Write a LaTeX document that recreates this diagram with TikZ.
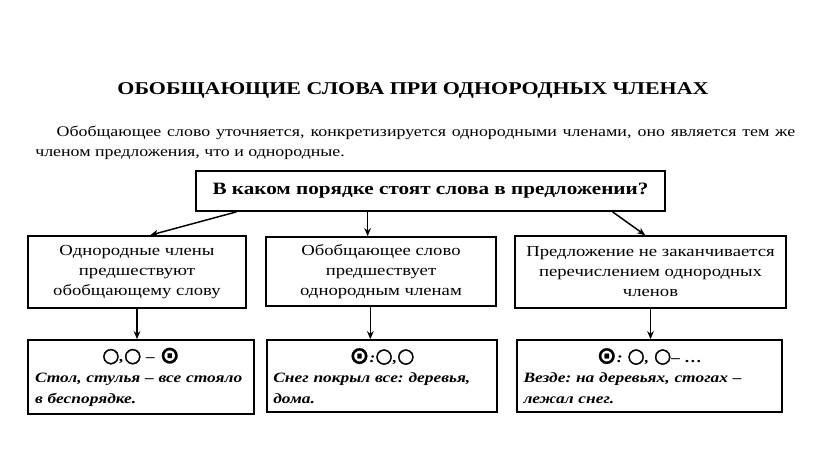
\documentclass[tikz,border=0pt]{standalone}
\usepackage{fontspec}
\setmainfont[FakeStretch=1.22]{Liberation Serif}
\newfontfamily\homfont[FakeBold=1.8]{DejaVu Sans}
\newfontfamily\genfont[FakeBold=0.8]{DejaVu Sans}
\usetikzlibrary{arrows.meta, positioning}
\tikzset{
  box/.style={rectangle,draw,line width=1.3pt,align=center,inner sep=3pt,font=\fontsize{11.5}{15}\selectfont},
  example/.style={rectangle,draw,line width=1.3pt,align=left,inner ysep=3pt,inner xsep=5pt,text width=#1,font=\fontsize{10.7}{15.5}\selectfont\bfseries\itshape\frenchspacing},
  line/.style={-{Stealth[length=6pt,width=5pt]},line width=1.1pt}
}
\newcommand{\homsym}{{\homfont\fontsize{15}{15}\selectfont ○}}
\newcommand{\gensym}{{\genfont\fontsize{18}{15}\selectfont\raisebox{-1pt}{⊙}}}

\begin{document}
\begin{tikzpicture}[x=0.75pt,y=-0.75pt]
\useasboundingbox[fill=white] (0,0) rectangle (816,449);
\node[font=\fontsize{13.5}{18}\selectfont\bfseries] (title) at (413,90) {ОБОБЩАЮЩИЕ СЛОВА ПРИ ОДНОРОДНЫХ ЧЛЕНАХ};
\node[anchor=north west,inner sep=0pt,text width=570pt,align=justify,font=\fontsize{11}{15}\selectfont] (intro) at (35,126)
  {\hspace*{16pt}Обобщающее слово уточняется, конкретизируется однородными членами, оно является тем же\linebreak членом предложения, что и однородные.};
\node[box, minimum width=351.75pt, minimum height=30pt, font=\fontsize{13}{15}\selectfont\bfseries] (q) at (430.5,191) {В каком порядке стоят слова в предложении?};
\node[box, minimum width=163.5pt, minimum height=54pt] (a) at (137,272) {Однородные члены\\предшествуют\\обобщающему слову};
\node[box, minimum width=172.5pt, minimum height=51.75pt] (b) at (381,271.5) {Обобщающее слово\\предшествует\\однородным членам};
\node[box, minimum width=203.25pt, minimum height=54pt] (c) at (650.5,272) {Предложение не заканчивается\\перечислением однородных\\членов};
\node[example=159pt, minimum height=55.5pt] (d) at (141,377) {{\centering\homsym,\homsym\ – \gensym\par}Стол, стулья – все стояло\newline в~беспорядке.};
\node[example=163pt, minimum height=54pt] (e) at (382,376) {{\centering\gensym:\homsym,\homsym\par}Снег покрыл все: деревья,\newline дома.};
\node[example=189pt, minimum height=54pt] (f) at (649.5,376) {{\centering\gensym: \homsym, \homsym– …\par}Везде: на деревьях, стогах –\newline лежал снег.};
\draw[line] ([xshift=31pt]q.south west) -- ([xshift=10pt]a.north);
\draw[line] ([xshift=-10pt]b.north |- q.south) -- ([xshift=-10pt]b.north);
\draw[line] ([xshift=-40pt]q.south east) -- ([xshift=-4pt]c.north);
\draw[line] (a.south) -- (a.south |- d.north);
\draw[line] ([xshift=-8pt]b.south) -- ([xshift=-8pt]b.south |- e.north);
\draw[line] (c.south) -- (c.south |- f.north);
\end{tikzpicture}
\end{document}
